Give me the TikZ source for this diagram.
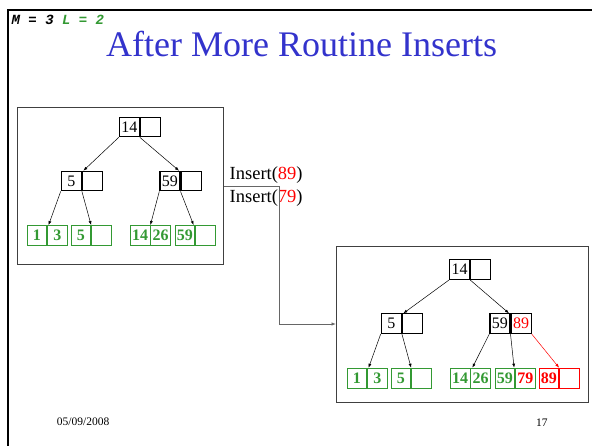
\documentclass[tikz,border=0pt]{standalone}
\usepackage{fontspec}
\setmainfont{Liberation Serif}
\newfontfamily\monof{Liberation Mono}
\usetikzlibrary{arrows.meta}
\definecolor{tblue}{RGB}{51,51,204}
\definecolor{lgreen}{RGB}{51,153,51}
\definecolor{ired}{RGB}{255,0,0}
\begin{document}
\begin{tikzpicture}[x=1pt,y=-1pt,
  cellk/.style={draw=black,line width=1.2pt,minimum width=20pt,minimum height=19.5pt,inner sep=0pt,anchor=north west,font=\fontsize{16}{16}\selectfont},
  cellg/.style={draw=lgreen,line width=0.9pt,text=lgreen,minimum width=19.5pt,minimum height=20.5pt,inner sep=0pt,anchor=north west,font=\fontsize{16}{16}\selectfont\bfseries},
  cellr/.style={cellg,draw=ired,text=ired},
  bigbox/.style={draw=black!75,line width=1.3pt,inner sep=0pt,anchor=north west},
  ptr/.style={line width=0.5pt,-{Latex[length=4pt,width=3pt]}},
  conn/.style={draw=black!60,line width=0.8pt,-{Latex[length=4.5pt,width=3.5pt]}},
  lbl/.style={anchor=base west,inner sep=0pt}
]
\useasboundingbox (0,0) rectangle (592,446);
% slide frame
\draw[line width=2.2pt] (7.8,446) -- (7.8,10) -- (592,10);
\node[lbl,font=\monof\bfseries\itshape\fontsize{14}{14}\selectfont] (ml) at (11.5,25) {M = 3 {\color{lgreen}L = 2}};
\node[lbl,text=tblue,font=\fontsize{36}{36}\selectfont] (title) at (106,56.7) {After More Routine Inserts};

% boxes
\node[bigbox,minimum width=206.3pt,minimum height=157pt] (LB) at (16.7,107) {};
\node[bigbox,minimum width=251.7pt,minimum height=155.7pt] (RB) at (336,246) {};

% left tree
\node[cellk] (lra) at (118.7,116.7) {14};
\node[cellk] (lrb) at (lra.north east) {};
\node[cellk] (lAa) at (60.7,170.7) {5};
\node[cellk] (lAb) at (lAa.north east) {};
\node[cellk] (lBa) at (159.3,170.7) {59};
\node[cellk] (lBb) at (lBa.north east) {};
\node[cellg] (l1a) at (26.7,225) {1};
\node[cellg] (l1b) at (l1a.north east) {3};
\node[cellg] (l2a) at (70.7,225) {5};
\node[cellg] (l2b) at (l2a.north east) {};
\node[cellg] (l3a) at (130,225) {14};
\node[cellg] (l3b) at (l3a.north east) {26};
\node[cellg] (l4a) at (174.7,225) {59};
\node[cellg] (l4b) at (l4a.north east) {};
\draw[ptr] (lra.south west) -- ([xshift=1.5pt]lAa.north east);
\draw[ptr] (lra.south east) -- ([xshift=-1.5pt]lBa.north east);
\draw[ptr] (lAa.south west) -- ([xshift=1.5pt]l1a.north east);
\draw[ptr] (lAa.south east) -- (l2a.north east);
\draw[ptr] (lBa.south west) -- (l3a.north east);
\draw[ptr] (lBa.south east) -- ([xshift=-1.5pt]l4a.north east);

% right tree
\node[cellk] (rra) at (449,259.3) {14};
\node[cellk] (rrb) at (rra.north east) {};
\node[cellk] (rAa) at (380.7,313.3) {5};
\node[cellk] (rAb) at (rAa.north east) {};
\node[cellk] (rBa) at (489.3,313.3) {59};
\node[cellk,text=ired] (rBb) at (rBa.north east) {89};
\node[cellg] (r1a) at (346.7,367.7) {1};
\node[cellg] (r1b) at (r1a.north east) {3};
\node[cellg] (r2a) at (390.7,367.7) {5};
\node[cellg] (r2b) at (r2a.north east) {};
\node[cellg] (r3a) at (450,367.7) {14};
\node[cellg] (r3b) at (r3a.north east) {26};
\node[cellg] (r4a) at (494.7,367.7) {59};
\node[cellg,text=ired] (r4b) at (r4a.north east) {79};
\node[cellr] (r5a) at (538.7,367.7) {89};
\node[cellr] (r5b) at (r5a.north east) {};
\draw[ptr] (rra.south west) -- ([xshift=1.5pt]rAa.north east);
\draw[ptr] (rra.south east) -- ([xshift=-1.5pt]rBa.north east);
\draw[ptr] (rAa.south west) -- ([xshift=1.5pt]r1a.north east);
\draw[ptr] (rAa.south east) -- (r2a.north east);
\draw[ptr] (rBa.south west) -- ([xshift=2pt]r3a.north east);
\draw[ptr] (rBa.south east) -- ([xshift=-1pt]r4a.north east);
\draw[ptr,ired] (rBb.south east) -- (r5a.north east);

% inserts and connector
\node[lbl,font=\fontsize{18.5}{18.5}\selectfont] (ins1) at (229.5,179.3) {Insert({\color{ired}89})};
\node[lbl,font=\fontsize{18.5}{18.5}\selectfont] (ins2) at (229.5,202.3) {Insert({\color{ired}79})};
\coordinate (c1) at (279.3,186);
\coordinate (c2) at (279.3,324);
\draw[conn] (LB.east |- c1) -- (c1) -- (c2) -- (RB.west |- c2);

% footer
\node[lbl,font=\fontsize{11.5}{11.5}\selectfont] (date) at (56.7,425.7) {05/09/2008};
\node[lbl,font=\fontsize{11.5}{11.5}\selectfont] (pg) at (536,426) {17};
\end{tikzpicture}
\end{document}
